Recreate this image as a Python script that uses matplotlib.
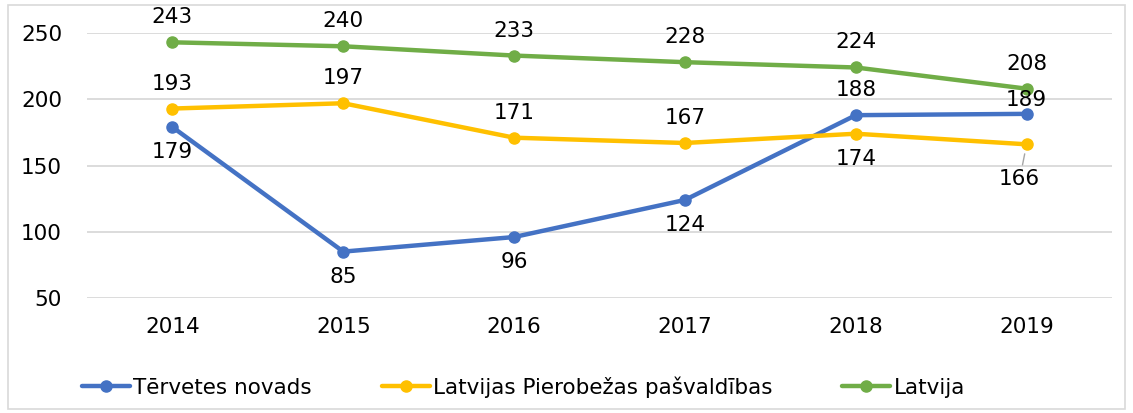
import matplotlib.pyplot as plt
from matplotlib.patches import Rectangle

years = ["2014", "2015", "2016", "2017", "2018", "2019"]
tervetes = [179, 85, 96, 124, 188, 189]
pierobeza = [193, 197, 171, 167, 174, 166]
latvija = [243, 240, 233, 228, 224, 208]

# label placement: 1 = above, -1 = below
tervetes_pos = [-1, -1, -1, -1, 1, 1]
pierobeza_pos = [1, 1, 1, 1, -1, -1]
latvija_pos = [1, 1, 1, 1, 1, 1]

plt.rcParams['font.family'] = ['DejaVu Sans']
FS = 15.5

fig = plt.figure(figsize=(11.33, 4.13), dpi=100)
ax = fig.add_axes([0.0768, 0.2785, 0.9047, 0.6415])

series = [
    ("Tērvetes novads", tervetes, tervetes_pos, "#4472C4"),
    ("Latvijas Pierobežas pašvaldības", pierobeza, pierobeza_pos, "#FFC000"),
    ("Latvija", latvija, latvija_pos, "#70AD47"),
]

x = list(range(len(years)))
for name, vals, pos, col in series:
    ax.plot(x, vals, color=col, lw=3.2, marker="o", ms=8, label=name,
            solid_capstyle="round", zorder=3)
    for i, (v, p) in enumerate(zip(vals, pos)):
        off = 18 * p
        if name == "Tērvetes novads" and i == 5:
            off = 10
        if name == "Latvijas Pierobežas pašvaldības" and i == 5:
            ax.annotate(str(v), (i, v), xytext=(-5, -25), textcoords="offset points",
                        ha="center", va="center", fontsize=FS,
                        arrowprops=dict(arrowstyle="-", color="#A6A6A6", lw=1,
                                        shrinkA=1, shrinkB=7))
            continue
        ax.annotate(str(v), (i, v), xytext=(0, off), textcoords="offset points",
                    ha="center", va="center", fontsize=FS, zorder=4)

ax.set_xlim(-0.5, len(years) - 0.5)
ax.set_ylim(50, 250)
ax.set_yticks([50, 100, 150, 200, 250])
ax.set_xticks(x)
ax.set_xticklabels(years)
ax.tick_params(axis="both", length=0, labelsize=FS)
ax.tick_params(axis="x", pad=14)
ax.tick_params(axis="y", pad=18)
ax.grid(axis="y", color="#D9D9D9", lw=1.3)
ax.set_axisbelow(True)
for s in ax.spines.values():
    s.set_visible(False)
ax.patch.set_alpha(0)

fig.legend(loc="center", bbox_to_anchor=(0.462, 0.063), ncol=3, frameon=False,
           fontsize=FS, handlelength=2.23, handletextpad=0.15, columnspacing=3.25,
           borderpad=0, borderaxespad=0)

fig.patches.append(Rectangle((0.007, 0.01), 0.986, 0.978, transform=fig.transFigure,
                             fill=False, edgecolor="#D9D9D9", lw=1.2))

fig.savefig("out.png", dpi=100)
